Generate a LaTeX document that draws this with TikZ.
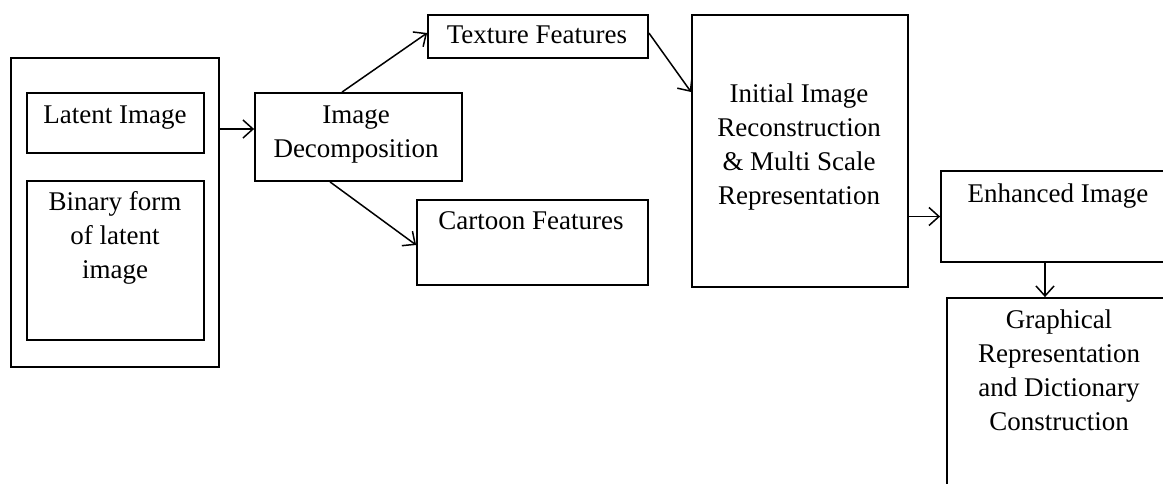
\documentclass[tikz,border=0pt]{standalone}
\usepackage{fontspec}
\setmainfont{Liberation Serif}
\usetikzlibrary{arrows.meta}
\begin{document}
\begin{tikzpicture}[x=1pt,y=-1pt,
  box/.style={draw, line width=1.8pt, inner sep=0pt, minimum width=#1},
  txt/.style={inner sep=0pt, anchor=north, align=center, font=\fontsize{27}{34}\selectfont},
  arr/.style={line width=1.5pt, -{Straight Barb[length=10pt,width=18pt,line width=1.5pt]}}]
\useasboundingbox (0,0) rectangle (1163,483);
\clip (0,0) rectangle (1163,483);
% boxes
\node[box=208pt, minimum height=309pt] (outer) at (115,212.5) {};
\node[box=177pt, minimum height=60pt] (latent) at (115.5,123) {};
\node[box=177pt, minimum height=159pt] (binary) at (115.5,260.5) {};
\node[box=207pt, minimum height=88pt] (decomp) at (358.5,137) {};
\node[box=220pt, minimum height=43pt] (texture) at (538,36.5) {};
\node[box=231pt, minimum height=85pt] (cartoon) at (532.5,242.5) {};
\node[box=216pt, minimum height=272pt] (initial) at (800,151) {};
\node[box=234pt, minimum height=91pt] (enhanced) at (1058,216.5) {};
\node[box=224pt, minimum height=222pt] (graph) at (1059,409) {};
% texts
\node[txt] (tlatent) at (115,99.2) {\strut Latent Image};
\node[txt] (tbinary) at (115,186.2) {\strut Binary form\\of latent\\image};
\node[txt] (tdecomp) at (356,99.2) {\strut Image\\Decomposition};
\node[txt] (ttexture) at (537,19.2) {\strut Texture Features};
\node[txt] (tcartoon) at (531,205.2) {\strut Cartoon Features};
\node[txt] (tinitial) at (799,78.2) {\strut Initial Image\\Reconstruction\\\&\ Multi Scale\\Representation};
\node[txt] (tenhanced) at (1058,178.2) {\strut Enhanced Image};
\node[txt] (tgraph) at (1059,304.2) {\strut Graphical\\Representation\\and Dictionary\\Construction};
% connectors
\coordinate (a1) at (0,129);
\draw[arr] (outer.east |- a1) -- (decomp.west |- a1);
\draw[arr] ([xshift=-16.5pt]decomp.north) -- ([yshift=3.5pt]texture.west);
\draw[arr] ([xshift=-28.5pt]decomp.south) -- ([yshift=-2.5pt]cartoon.west);
\draw[arr] ([yshift=3.5pt]texture.east) -- ([yshift=59pt]initial.west);
\draw[arr] (initial.east |- enhanced.west) -- (enhanced.west);
\draw[arr] ([xshift=-13pt]enhanced.south) -- ([xshift=-13pt]enhanced.south |- graph.north);
\end{tikzpicture}
\end{document}
